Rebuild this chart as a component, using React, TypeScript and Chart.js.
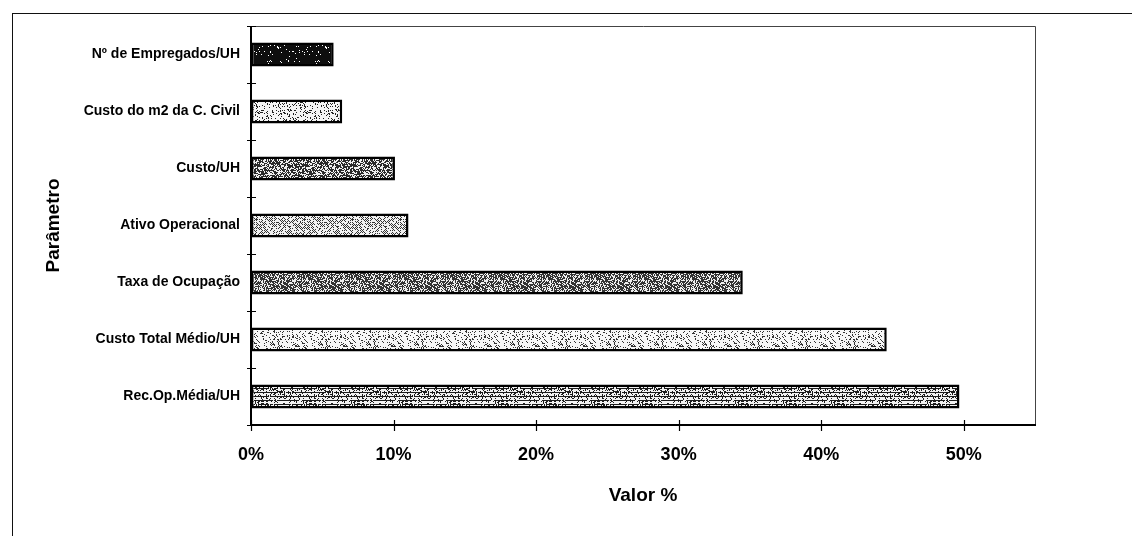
import React, { useEffect, useRef } from "react";
import { Chart, registerables } from "chart.js";

Chart.register(...registerables);

const categories = [
  "Nº de Empregados/UH",
  "Custo do m2 da C. Civil",
  "Custo/UH",
  "Ativo Operacional",
  "Taxa de Ocupação",
  "Custo Total Médio/UH",
  "Rec.Op.Média/UH",
];
const values = [5.8, 6.4, 10.1, 11.05, 34.5, 44.6, 49.7];
const xTickValues = [0, 10, 20, 30, 40, 50];
const xMax = 55;
const yTitle = "Parâmetro";
const xTitle = "Valor %";

type PatSpec = { bg: string; fg: string; density: number; mode?: string; seed: number };
const patternSpecs: PatSpec[] = [
  { bg: "#0e0e0e", fg: "#ffffff", density: 0.05, seed: 1 },
  { bg: "#f6f6f6", fg: "#222222", density: 0.16, seed: 2 },
  { bg: "#2a2a2a", fg: "#f0f0f0", density: 0.42, seed: 3 },
  { bg: "#f2f2f2", fg: "#333333", density: 0.3, mode: "grid", seed: 4 },
  { bg: "#333333", fg: "#eeeeee", density: 0.4, seed: 5 },
  { bg: "#f7f7f7", fg: "#333333", density: 0.2, seed: 6 },
  { bg: "#1c1c1c", fg: "#f2f2f2", density: 0.55, mode: "rows", seed: 7 },
];

function hash(x: number, y: number, s: number) {
  let n = Math.imul(x, 374761393) + Math.imul(y, 668265263) + Math.imul(s, 982451653);
  n = Math.imul(n ^ (n >>> 13), 1274126177);
  n = n ^ (n >>> 16);
  return ((n >>> 0) % 1000) / 1000;
}

function makePattern(ctx: CanvasRenderingContext2D, spec: PatSpec) {
  const c = document.createElement("canvas");
  const size = 48;
  c.width = size;
  c.height = size;
  const g = c.getContext("2d")!;
  g.fillStyle = spec.bg;
  g.fillRect(0, 0, size, size);
  g.fillStyle = spec.fg;
  for (let y = 0; y < size; y++) {
    for (let x = 0; x < size; x++) {
      let d = spec.density;
      if (spec.mode === "grid") d = (x + y) % 2 === 0 ? spec.density * 2 : 0.02;
      if (spec.mode === "rows") d = y % 4 === 0 ? 0.1 : spec.density + 0.2;
      if (hash(x, y, spec.seed) < d) g.fillRect(x, y, 1, 1);
    }
  }
  return ctx.createPattern(c, "repeat")!;
}

const framePlugin = {
  id: "frameTicks",
  afterDraw(chart: any) {
    const { ctx, chartArea: a, scales } = chart;
    const xs = scales.x;
    const ys = scales.y;
    ctx.save();
    ctx.strokeStyle = "#444";
    ctx.lineWidth = 1;
    ctx.beginPath();
    ctx.moveTo(a.left, a.top + 0.5);
    ctx.lineTo(a.right + 0.5, a.top + 0.5);
    ctx.lineTo(a.right + 0.5, a.bottom);
    ctx.stroke();
    ctx.strokeStyle = "#000";
    ctx.lineWidth = 2;
    ctx.beginPath();
    ctx.moveTo(a.left, a.top);
    ctx.lineTo(a.left, a.bottom);
    ctx.lineTo(a.right + 1, a.bottom);
    ctx.stroke();
    ctx.lineWidth = 1.2;
    ctx.beginPath();
    xs.ticks.forEach((_t: any, i: number) => {
      const px = Math.round(xs.getPixelForTick(i)) + 0.5;
      ctx.moveTo(px, a.bottom - 5);
      ctx.lineTo(px, a.bottom + 6);
    });
    const n = categories.length;
    for (let i = 0; i <= n; i++) {
      const py = Math.round(ys.getPixelForValue(i - 0.5)) + 0.5;
      ctx.moveTo(a.left - 4, py);
      ctx.lineTo(a.left + 5, py);
    }
    ctx.stroke();
    ctx.restore();
  },
};

export default function App() {
  const ref = useRef<HTMLCanvasElement>(null);
  useEffect(() => {
    const canvas = ref.current!;
    const ctx = canvas.getContext("2d")!;
    const patterns = patternSpecs.map((s) => makePattern(ctx, s));
    const font = "'Liberation Sans', Arial, sans-serif";
    const chart = new Chart(canvas, {
      type: "bar",
      data: {
        labels: categories,
        datasets: [
          {
            data: values,
            backgroundColor: patterns as any,
            borderColor: "#000",
            borderWidth: 2.5,
            borderSkipped: false,
            barPercentage: 0.42,
            categoryPercentage: 1,
          },
        ],
      },
      options: {
        indexAxis: "y",
        responsive: false,
        animation: false,
        devicePixelRatio: 1,
        layout: { padding: { left: 0, top: 26, right: 97, bottom: 0 } },
        plugins: { legend: { display: false }, tooltip: { enabled: false } },
        scales: {
          x: {
            type: "linear",
            min: 0,
            max: xMax,
            grid: { display: false },
            border: { display: false },
            afterBuildTicks: (scale: any) => {
              scale.ticks = xTickValues.map((v) => ({ value: v }));
            },
            afterFit: (scale: any) => {
              scale.height = 111;
            },
            ticks: {
              padding: 11,
              color: "#000",
              font: { family: font, size: 18, weight: "bold" },
              callback: (v: any) => `${v}%`,
            },
            title: {
              display: true,
              text: xTitle,
              color: "#000",
              font: { family: font, size: 19, weight: "bold" },
              padding: { top: 0, bottom: 29 },
            },
          },
          y: {
            type: "category",
            grid: { display: false, offset: true },
            border: { display: false },
            afterFit: (scale: any) => {
              scale.width = 251;
            },
            ticks: {
              padding: 3,
              color: "#000",
              font: { family: font, size: 14, weight: "bold" },
            },
            title: {
              display: true,
              text: yTitle,
              color: "#000",
              font: { family: font, size: 19, weight: "bold" },
              padding: { top: 42, bottom: 0 },
            },
          },
        },
      },
      plugins: [framePlugin],
    } as any);
    return () => chart.destroy();
  }, []);
  return (
    <div style={{ position: "fixed", left: 0, top: 0, width: 1132, height: 536, background: "#fff" }}>
      <div
        style={{
          position: "absolute",
          left: 12,
          top: 13,
          right: 0,
          bottom: 0,
          borderTop: "1.5px solid #111",
          borderLeft: "1.5px solid #111",
        }}
      />
      <canvas ref={ref} width={1132} height={536} style={{ position: "absolute", left: 0, top: 0, display: "block" }} />
    </div>
  );
}
